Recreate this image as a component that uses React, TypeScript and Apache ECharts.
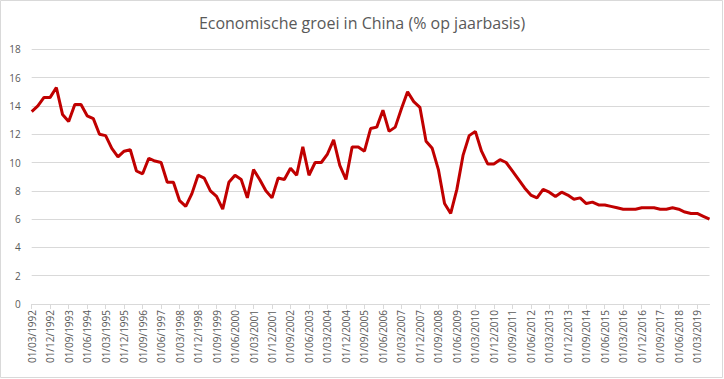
import React, { useEffect, useRef } from "react";
import * as echarts from "echarts";

const titleText = "Economische groei in China (% op jaarbasis)";
const startYear = 1992;
const quarterMonths = ["03", "06", "09", "12"];
const growth = [
  13.6, 14.0, 14.6, 14.6, 15.3, 13.4, 12.9, 14.1, 14.1, 13.3,
  13.1, 12.0, 11.9, 11.0, 10.4, 10.8, 10.9, 9.4, 9.2, 10.3,
  10.1, 10.0, 8.6, 8.6, 7.3, 6.9, 7.8, 9.1, 8.9, 8.0,
  7.6, 6.7, 8.6, 9.1, 8.8, 7.5, 9.5, 8.8, 8.0, 7.5,
  8.9, 8.8, 9.6, 9.1, 11.1, 9.1, 10.0, 10.0, 10.6, 11.6,
  9.8, 8.8, 11.1, 11.1, 10.8, 12.4, 12.5, 13.7, 12.2, 12.5,
  13.8, 15.0, 14.3, 13.9, 11.5, 11.0, 9.5, 7.1, 6.4, 8.1,
  10.5, 11.9, 12.2, 10.8, 9.9, 9.9, 10.2, 10.0, 9.4, 8.8,
  8.2, 7.7, 7.5, 8.1, 7.9, 7.6, 7.9, 7.7, 7.4, 7.5,
  7.1, 7.2, 7.0, 7.0, 6.9, 6.8, 6.7, 6.7, 6.7, 6.8,
  6.8, 6.8, 6.7, 6.7, 6.8, 6.7, 6.5, 6.4, 6.4, 6.2,
  6.0,
];
const categories: string[] = growth.map((_, i) => {
  const y = startYear + Math.floor(i / 4);
  return `01/${quarterMonths[i % 4]}/${y}`;
});

export default function App() {
  const ref = useRef<HTMLDivElement>(null);
  useEffect(() => {
    if (!ref.current) return;
    const chart = echarts.init(ref.current, null, { renderer: "svg" });
    const font = "'Open Sans', 'Liberation Sans', sans-serif";
    chart.setOption({
      animation: false,
      backgroundColor: "#ffffff",
      textStyle: { fontFamily: font },
      title: {
        text: titleText,
        left: "center",
        top: 10,
        textStyle: { fontFamily: font, fontSize: 16, fontWeight: "normal", color: "#595959" },
      },
      graphic: [
        {
          type: "rect",
          shape: { x: 0.5, y: 0.5, width: 722, height: 377 },
          style: { fill: "none", stroke: "#d9d9d9", lineWidth: 1 },
          silent: true,
        },
      ],
      grid: { left: 31.7, right: 14.5, top: 49.3, bottom: 75, containLabel: false },
      xAxis: {
        type: "category",
        data: categories,
        boundaryGap: false,
        axisLine: { lineStyle: { color: "#d9d9d9", width: 1 } },
        axisTick: { interval: 2, length: 5, lineStyle: { color: "#d9d9d9" } },
        axisLabel: {
          interval: 2,
          rotate: 90,
          margin: 6,
          fontSize: 10,
          color: "#595959",
          fontFamily: font,
        },
        splitLine: { show: false },
      },
      yAxis: {
        type: "value",
        min: 0,
        max: 18,
        interval: 2,
        axisLine: { show: false },
        axisTick: { show: false },
        axisLabel: { fontSize: 10, color: "#595959", margin: 11, fontFamily: font },
        splitLine: { lineStyle: { color: "#d9d9d9", width: 1 } },
      },
      series: [
        {
          type: "line",
          data: growth,
          showSymbol: false,
          symbol: "none",
          lineStyle: { color: "#c00000", width: 3 },
        },
      ],
    });
    return () => chart.dispose();
  }, []);
  return (
    <div
      ref={ref}
      style={{ position: "fixed", left: 0, top: 0, width: 724, height: 379 }}
    />
  );
}
